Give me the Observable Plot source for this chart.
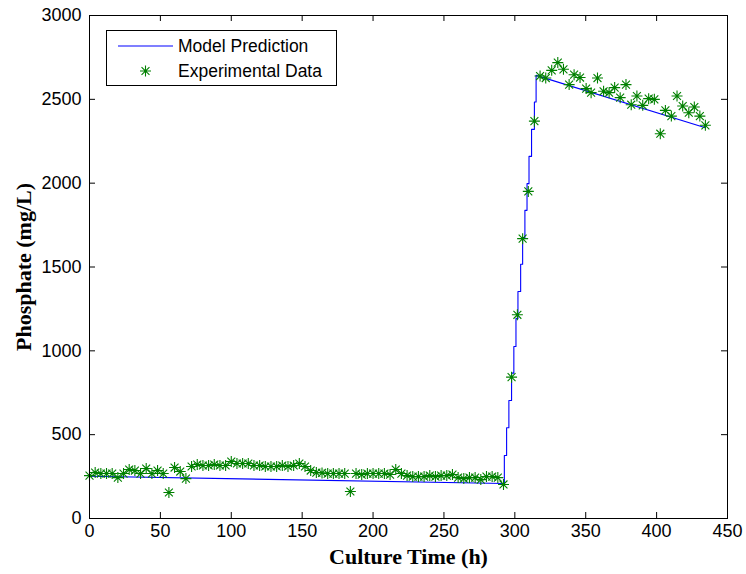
<!DOCTYPE html>
<html><head><meta charset="utf-8">
<script src="https://cdn.jsdelivr.net/npm/d3@7"></script>
<script src="https://cdn.jsdelivr.net/npm/@observablehq/plot@0.6"></script>
<style>
body{margin:0;background:#fff;}
#wrap{position:relative;width:746px;height:574px;}
#legend{position:absolute;left:106px;top:30px;width:231px;height:56px;border:1px solid #000;background:#fff;box-sizing:border-box;font-family:"Liberation Sans",Arial,sans-serif;font-size:17.5px;color:#000;}
#legend .lbl{position:absolute;left:71px;white-space:nowrap;}
#legend svg{position:absolute;left:0;top:0;}
</style></head><body><div id="wrap"></div>
<script>
const xTicks = [0, 50, 100, 150, 200, 250, 300, 350, 400, 450];
const yTicks = [0, 500, 1000, 1500, 2000, 2500, 3000];
const legendLabels = ["Model Prediction", "Experimental Data"];

// Experimental data (culture time h, phosphate mg/L)
const expTime = [
  0,4,8,12,16,20,24,28,32,36,40,44,48,52,56,60,64,68,72,76,80,84,88,92,96,100,
  104,108,112,116,120,124,128,132,136,140,144,148,152,156,160,164,168,172,176,180,
  184,188,192,196,200,204,208,212,216,220,224,228,232,236,240,244,248,252,256,260,
  264,268,272,276,280,284,288,292,
  297.7,301.8,305.5,309.5,313.8,
  317.8,321.8,326,330.3,334.3,338.3,341.8,346,350.3,353.8,358.3,362.6,366.5,370.4,
  374.3,378.4,382.1,386.1,390.2,394.4,398.4,402.6,406.2,410.4,414.4,418.4,422.7,
  426.6,430.5,434.4
];
const expPhosphate = [
  256,274,268,268,268,244,268,292,286,268,298,268,286,268,155,304,280,238,310,322,316,316,322,316,316,340,
  328,328,328,316,316,310,310,310,316,310,316,328,310,286,274,272,268,268,268,268,
  161,268,262,268,268,268,268,262,292,268,256,250,250,250,256,250,256,256,262,244,
  238,244,244,232,250,250,244,203,
  843,1215,1669,1951,2370,
  2639,2627,2673,2719,2679,2588,2647,2630,2564,2540,2627,2548,2540,2570,
  2510,2588,2468,2520,2464,2504,2500,2295,2434,2400,2520,2460,2420,
  2454,2400,2345
];

// Model prediction: slow decline, staircase rise, linear decline
const modelLowTime = [0, 292.6];
const modelLowValue = [252, 209];
const modelStepTime = [292.6,294.2,295.8,297.7,299.3,300.8,302.2,304.1,305.5,307.1,308.6,310.0,311.8,313.8,315.0];
const modelStepValue = [376,541,704,867,1026,1192,1354,1516,1675,1838,1997,2160,2321,2484,2643];
const modelEndTime = 434.4;
const modelEndValue = 2331;

// Build model polyline from the arrays
const model = [];
modelLowTime.forEach((t, i) => model.push({t, v: modelLowValue[i]}));
let prev = modelLowValue[modelLowValue.length - 1];
modelStepTime.forEach((t, i) => {
  model.push({t, v: prev});
  model.push({t, v: modelStepValue[i]});
  prev = modelStepValue[i];
});
model.push({t: modelEndTime, v: modelEndValue});

const expData = expTime.map((t, i) => ({t, v: expPhosphate[i]}));

// MATLAB-like 8-armed asterisk
const star = {
  draw(ctx, size) {
    const r = Math.sqrt(size / Math.PI);
    const d = r * 0.72;
    ctx.moveTo(-r, 0); ctx.lineTo(r, 0);
    ctx.moveTo(0, -r); ctx.lineTo(0, r);
    ctx.moveTo(-d, -d); ctx.lineTo(d, d);
    ctx.moveTo(-d, d); ctx.lineTo(d, -d);
  }
};

const W = 746, H = 574, mL = 89, mR = 19, mT = 15, mB = 56;
const pw = W - mL - mR, ph = H - mT - mB, tk = 6;
const green = "#008000";
const sans = "'Liberation Sans', Arial, Helvetica, sans-serif";
const serif = "'Liberation Serif', 'Times New Roman', serif";

const chart = Plot.plot({
  width: W, height: H,
  marginLeft: mL, marginRight: mR, marginTop: mT, marginBottom: mB,
  style: {fontFamily: sans, fontSize: "18px", color: "#000", background: "#fff"},
  x: {domain: [0, 450]},
  y: {domain: [0, 3000]},
  marks: [
    Plot.axisX({ticks: xTicks, tickSize: 0, tickPadding: 6, label: null, fontSize: 18, tickFormat: d => String(d)}),
    Plot.axisY({ticks: yTicks, tickSize: 0, tickPadding: 8, label: null, fontSize: 18, tickFormat: d => String(d)}),
    Plot.tickX(xTicks, {x: d => d, insetTop: ph - tk, stroke: "#000"}),
    Plot.tickX(xTicks, {x: d => d, insetBottom: ph - tk, stroke: "#000"}),
    Plot.tickY(yTicks, {y: d => d, insetRight: pw - tk, stroke: "#000"}),
    Plot.tickY(yTicks, {y: d => d, insetLeft: pw - tk, stroke: "#000"}),
    Plot.line(model, {x: "t", y: "v", stroke: "#0000ff", strokeWidth: 1.1}),
    Plot.dot(expData, {x: "t", y: "v", symbol: star, r: 5.5, stroke: green, fill: "none", strokeWidth: 1.1}),
    Plot.frame({stroke: "#000", strokeWidth: 1}),
    Plot.text(["Phosphate (mg/L)"], {frameAnchor: "left", dx: -66, rotate: -90, textAnchor: "middle", lineAnchor: "middle", fontFamily: serif, fontWeight: "bold", fontSize: 22, fill: "#000"}),
    Plot.text(["Culture Time (h)"], {frameAnchor: "bottom", dy: 38, textAnchor: "middle", lineAnchor: "middle", fontFamily: serif, fontWeight: "bold", fontSize: 22, fill: "#000"})
  ]
});

const wrap = document.getElementById("wrap");
wrap.appendChild(chart);

// Legend overlay inside plot area
const leg = document.createElement("div");
leg.id = "legend";
const ns = "http://www.w3.org/2000/svg";
const s = document.createElementNS(ns, "svg");
s.setAttribute("width", "229"); s.setAttribute("height", "54");
const ln = document.createElementNS(ns, "line");
ln.setAttribute("x1", "11"); ln.setAttribute("x2", "66");
ln.setAttribute("y1", "15"); ln.setAttribute("y2", "15");
ln.setAttribute("stroke", "#0000ff"); ln.setAttribute("stroke-width", "1.1");
s.appendChild(ln);
const st = document.createElementNS(ns, "path");
const p = d3.path(); star.draw(p, Math.PI * 5.5 * 5.5);
st.setAttribute("d", p.toString());
st.setAttribute("transform", "translate(38.5,40)");
st.setAttribute("stroke", green); st.setAttribute("fill", "none"); st.setAttribute("stroke-width", "1.1");
s.appendChild(st);
leg.appendChild(s);
legendLabels.forEach((txt, i) => {
  const d = document.createElement("div");
  d.className = "lbl";
  d.style.top = (i === 0 ? 5 : 30) + "px";
  d.style.lineHeight = "20px";
  d.textContent = txt;
  leg.appendChild(d);
});
wrap.appendChild(leg);
</script>
</body></html>
